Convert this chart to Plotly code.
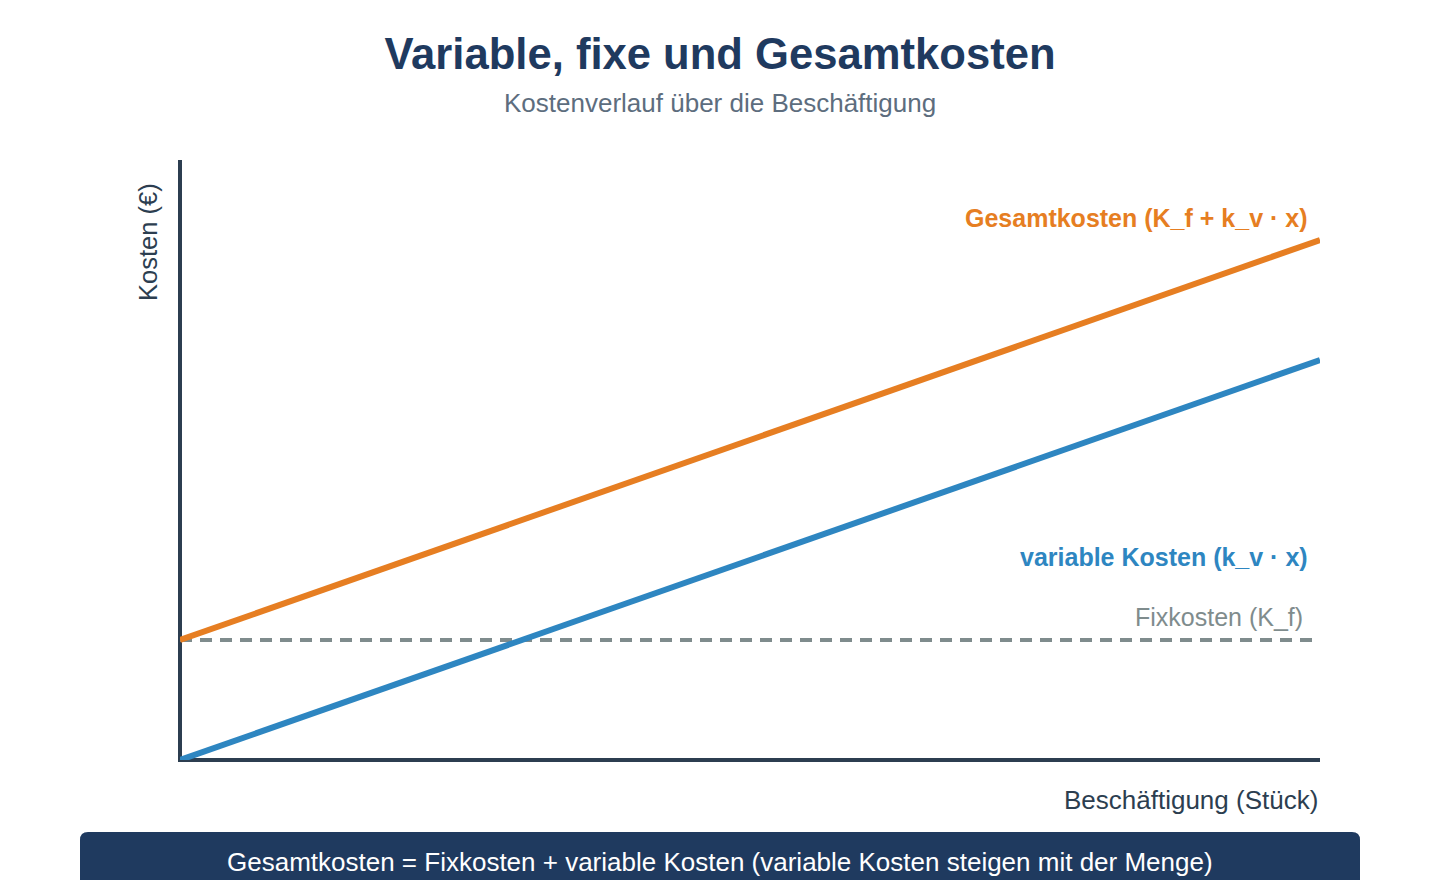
import plotly.graph_objects as go

# Data
menge = [0, 100]
fixkosten = [30, 30]
variable_kosten = [0, 100]
gesamtkosten = [30, 130]

FONT = "Liberation Sans, Arial, Helvetica, sans-serif"
C_TITLE = "#1f3a5f"
C_AXIS = "#2c3e50"
C_ORANGE = "#e67e22"
C_BLUE = "#2e86c1"
C_GRAY = "#7f8c8d"

fig = go.Figure()
fig.add_trace(go.Scatter(x=menge, y=fixkosten, mode="lines",
                         line=dict(color=C_GRAY, width=4, dash="12px,8px"),
                         hoverinfo="skip", showlegend=False, cliponaxis=False))
fig.add_trace(go.Scatter(x=menge, y=variable_kosten, mode="lines",
                         line=dict(color=C_BLUE, width=6),
                         hoverinfo="skip", showlegend=False, cliponaxis=False))
fig.add_trace(go.Scatter(x=menge, y=gesamtkosten, mode="lines",
                         line=dict(color=C_ORANGE, width=6),
                         hoverinfo="skip", showlegend=False, cliponaxis=False))

W, H = 1440, 880
L, R, T, B = 180, 120, 160, 120
PW, PH = W - L - R, H - T - B

def px(x):
    return (x - L) / PW

def py(y):
    return (H - B - y) / PH

# Banner with rounded top corners
x0, x1, yt, yb, r = 80, 1360, 832, 900, 8
path = (f"M {px(x0)},{py(yb)} L {px(x0)},{py(yt + r)} "
        f"Q {px(x0)},{py(yt)} {px(x0 + r)},{py(yt)} "
        f"L {px(x1 - r)},{py(yt)} Q {px(x1)},{py(yt)} {px(x1)},{py(yt + r)} "
        f"L {px(x1)},{py(yb)} Z")

shapes = [
    # y axis line
    dict(type="line", xref="paper", yref="paper", x0=0, x1=0,
         y0=py(762), y1=1, line=dict(color=C_AXIS, width=4), layer="below"),
    # x axis line
    dict(type="line", xref="paper", yref="paper", x0=px(178), x1=1,
         y0=0, y1=0, line=dict(color=C_AXIS, width=4), layer="below"),
    dict(type="path", path=path, xref="paper", yref="paper",
         fillcolor=C_TITLE, line=dict(width=0), layer="above"),
]

fig.update_layout(
    width=W, height=H,
    margin=dict(l=L, r=R, t=T, b=B),
    plot_bgcolor="white", paper_bgcolor="white",
    font=dict(family=FONT, color=C_AXIS),
    title=dict(text="<b>Variable, fixe und Gesamtkosten</b>",
               x=0.5, xanchor="center", y=1 - 54 / H, yanchor="middle",
               font=dict(size=43.6, color=C_TITLE, family=FONT)),
    xaxis=dict(range=[0, 100], showgrid=False, zeroline=False,
               showticklabels=False, ticks="", showline=False, fixedrange=True),
    yaxis=dict(range=[0, 150], showgrid=False, zeroline=False,
               showticklabels=False, ticks="", showline=False, fixedrange=True),
    shapes=shapes,
    annotations=[
        dict(text="Kostenverlauf über die Beschäftigung", xref="paper", yref="paper",
             x=px(720), y=py(103), xanchor="center", yanchor="middle", showarrow=False,
             font=dict(size=26, color="#5d6d7e")),
        dict(text="Gesamtkosten (K_f + k_v · x)", xref="paper", yref="paper",
             x=px(1310), y=py(218), xanchor="right", yanchor="middle", showarrow=False,
             font=dict(size=25, color=C_ORANGE, family=FONT, weight="bold")),
        dict(text="variable Kosten (k_v · x)", xref="paper", yref="paper",
             x=px(1310), y=py(557), xanchor="right", yanchor="middle", showarrow=False,
             font=dict(size=25, color=C_BLUE, family=FONT, weight="bold")),
        dict(text="Fixkosten (K_f)", xref="paper", yref="paper",
             x=px(1305), y=py(617), xanchor="right", yanchor="middle", showarrow=False,
             font=dict(size=25, color=C_GRAY)),
        dict(text="Kosten (€)", xref="paper", yref="paper", textangle=-90,
             x=px(148), y=py(242), xanchor="center", yanchor="middle", showarrow=False,
             font=dict(size=25.5, color=C_AXIS)),
        dict(text="Beschäftigung (Stück)", xref="paper", yref="paper",
             x=px(1320), y=py(800), xanchor="right", yanchor="middle", showarrow=False,
             font=dict(size=26, color=C_AXIS)),
        dict(text="Gesamtkosten = Fixkosten + variable Kosten (variable Kosten steigen mit der Menge)",
             xref="paper", yref="paper",
             x=px(720), y=py(862), xanchor="center", yanchor="middle", showarrow=False,
             font=dict(size=26, color="white")),
    ],
)

fig.write_html("out.html", config={"displayModeBar": False})
